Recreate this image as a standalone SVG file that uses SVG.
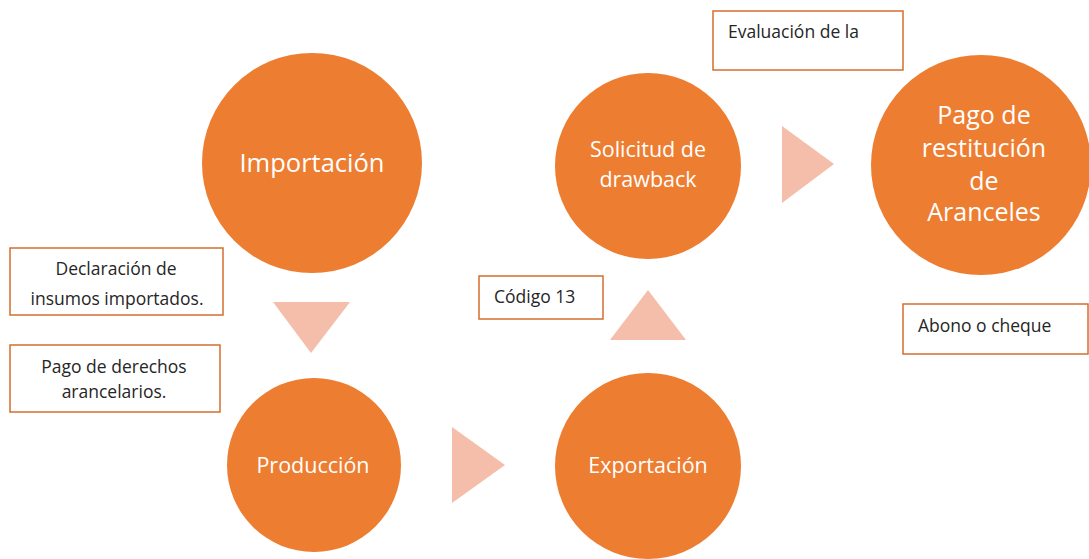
<svg xmlns="http://www.w3.org/2000/svg" width="1089" height="559" viewBox="0 0 1089 559">
<style>
.c{fill:#ED7D31}
.ct{fill:#FFFFFF;font-family:"Open Sans",Lato,sans-serif;text-anchor:middle}
.tri{fill:#F4BEAA}
.b{fill:#FFFFFF;stroke:#D46F2E;stroke-width:1.5}
.bt{fill:#262626;font-family:"Open Sans",Lato,sans-serif;font-size:17.5px}
</style>
<rect width="1089" height="559" fill="#FFFFFF"/>
<g id="connectors">
<polygon class="tri" points="273,302 350,302 311,353"/>
<polygon class="tri" points="452,427 505,465 452,503"/>
<polygon class="tri" points="610,340 686,340 648,290"/>
<polygon class="tri" points="782,126 834,164 782,203"/>
</g>
<g id="importacion">
<circle class="c" cx="312" cy="163" r="110"/>
<text class="ct" x="312" y="172" font-size="25.5">Importación</text>
</g>
<g id="produccion">
<circle class="c" cx="314" cy="465" r="87"/>
<text class="ct" x="313" y="473" font-size="21.5">Producción</text>
</g>
<g id="exportacion">
<circle class="c" cx="648" cy="466" r="93"/>
<text class="ct" x="648" y="473" font-size="21.5">Exportación</text>
</g>
<g id="solicitud">
<circle class="c" cx="648" cy="166" r="93"/>
<text class="ct" x="648" y="157" font-size="21.5">Solicitud de</text>
<text class="ct" x="648" y="187" font-size="21.5">drawback</text>
</g>
<g id="pago">
<circle class="c" cx="981" cy="165" r="110"/>
<text class="ct" x="984" y="124" font-size="25">Pago de</text>
<text class="ct" x="984" y="157" font-size="25">restitución</text>
<text class="ct" x="984" y="190" font-size="25">de</text>
<text class="ct" x="984" y="221" font-size="25">Aranceles</text>
</g>
<g id="declaracion">
<rect class="b" x="10" y="248" width="213" height="67"/>
<text class="bt" x="116" y="275" text-anchor="middle">Declaración de</text>
<text class="bt" x="117" y="305" text-anchor="middle">insumos importados.</text>
</g>
<g id="pago-derechos">
<rect class="b" x="10" y="345" width="210" height="67"/>
<text class="bt" x="114" y="373" text-anchor="middle">Pago de derechos</text>
<text class="bt" x="114" y="398" text-anchor="middle">arancelarios.</text>
</g>
<g id="codigo">
<rect class="b" x="479" y="276" width="124" height="43"/>
<text class="bt" x="494" y="303">Código 13</text>
</g>
<g id="evaluacion">
<rect class="b" x="713" y="11" width="190" height="59"/>
<text class="bt" x="728" y="38">Evaluación de la</text>
</g>
<g id="abono">
<rect class="b" x="903" y="304" width="185" height="50"/>
<text class="bt" x="918" y="332">Abono o cheque</text>
</g>
</svg>
